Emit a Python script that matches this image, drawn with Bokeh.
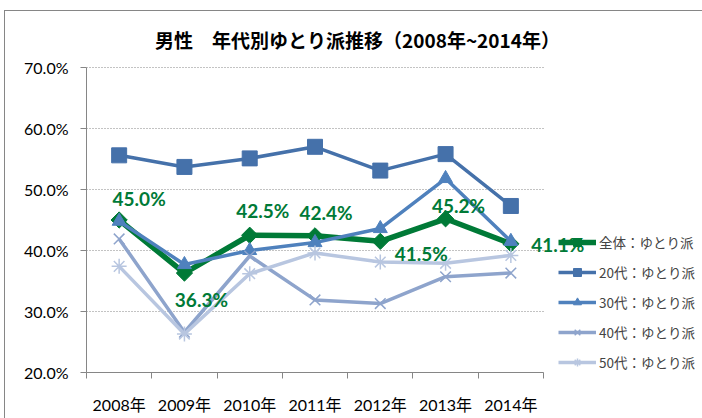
from bokeh.plotting import figure
from bokeh.models import (Range1d, FixedTicker, PrintfTickFormatter, Legend, LegendItem,
                          ColumnDataSource, LabelSet, Label)
from bokeh.core.properties import value
from bokeh.embed import file_html
from bokeh.resources import INLINE

# ---- data ----
title_text = "男性　年代別ゆとり派推移（2008年~2014年）"
years = ["2008年", "2009年", "2010年", "2011年", "2012年", "2013年", "2014年"]
series_names = ["全体：ゆとり派", "20代：ゆとり派", "30代：ゆとり派", "40代：ゆとり派", "50代：ゆとり派"]
total = [45.0, 36.3, 42.5, 42.4, 41.5, 45.2, 41.1]
age20 = [55.6, 53.7, 55.1, 57.0, 53.1, 55.8, 47.3]
age30 = [44.8, 37.7, 40.0, 41.3, 43.6, 51.8, 41.5]
age40 = [41.9, 26.6, 39.1, 31.9, 31.3, 35.7, 36.3]
age50 = [37.4, 26.3, 36.2, 39.6, 38.1, 37.9, 39.2]
y_ticks = [20, 30, 40, 50, 60, 70]

# label offsets (screen px, x right / y down) for the 全体 data labels
label_dx = [20, 17, 13, 11, 41, 13, 47]
label_dy = [-22, 26, -25, -23, 12, -13, 1]

n = len(years)
xs = [i + 1 for i in range(n)]
x_lo, x_hi = 0.5, n + 0.5
y_lo, y_hi = y_ticks[0], y_ticks[-1]

FONT = "Lato"
CJK = "Noto Sans CJK JP"
AXIS_GRAY = "#868686"

W, H = 702, 418
LEFT, BOTTOM = 86, 46
PLOT_W, PLOT_H, PLOT_TOP = 457, 305, 67   # category/value area in pixels
x_px = PLOT_W / (x_hi - x_lo)
y_px = PLOT_H / (y_hi - y_lo)
frame_w, frame_h = W - LEFT, H - BOTTOM
x_end = x_lo + frame_w / x_px       # frame extends right to hold the legend
y_end = y_lo + frame_h / y_px       # and up to hold the title

p = figure(width=W, height=H, output_backend="svg", toolbar_location=None,
           x_range=Range1d(x_lo, x_end), y_range=Range1d(y_lo, y_end),
           min_border_left=LEFT, min_border_right=0, min_border_top=0, min_border_bottom=BOTTOM)
p.outline_line_color = None
p.background_fill_color = "white"
p.background_fill_alpha = 0
p.border_fill_alpha = 0
p.styles = {
    "background-color": "white",
    "background-image": "linear-gradient(#868686, #868686), linear-gradient(#868686, #868686)",
    "background-size": "1px 100%, 100% 1px",
    "background-position": "4px 10px, 4px 10px",
    "background-repeat": "no-repeat",
}

# title (as a label placed above the value area)
title = Label(x=357 - LEFT, y=frame_h - 39, x_units="screen", y_units="screen",
              text=title_text, text_align="center", text_baseline="middle",
              text_font=CJK, text_font_size="19px", text_font_style="bold", text_color="#000000")
p.add_layout(title)

# axes
p.xaxis.bounds = (x_lo, x_hi)
p.yaxis.bounds = (y_lo, y_hi)
p.xaxis.ticker = FixedTicker(ticks=xs, minor_ticks=[x - 0.5 for x in xs] + [x_hi])
p.xaxis.major_label_overrides = {x: y for x, y in zip(xs, years)}
p.xaxis.major_tick_line_color = None
p.xaxis.major_tick_out = 0
p.xaxis.major_tick_in = 0
p.xaxis.minor_tick_out = 6
p.xaxis.minor_tick_in = 0
p.xaxis.minor_tick_line_color = AXIS_GRAY
p.xaxis.major_label_standoff = 16
p.yaxis.ticker = FixedTicker(ticks=y_ticks)
p.yaxis.formatter = PrintfTickFormatter(format="%.1f%%")
p.yaxis.major_tick_out = 6
p.yaxis.major_tick_in = 0
p.yaxis.minor_tick_line_color = None
p.yaxis.major_tick_line_color = AXIS_GRAY
p.yaxis.major_label_standoff = 12
for ax in (p.xaxis, p.yaxis):
    ax.axis_line_color = AXIS_GRAY
    ax.major_label_text_font = FONT
    ax.major_label_text_font_size = "16px"
    ax.major_label_text_color = "#000000"
p.xaxis.major_label_text_font = "Lato, Noto Sans CJK JP"

p.xgrid.grid_line_color = None
p.ygrid.grid_line_color = None
# dotted horizontal gridlines limited to the category area
p.segment(x0=[x_lo] * len(y_ticks), x1=[x_hi] * len(y_ticks), y0=y_ticks, y1=y_ticks,
          line_color=AXIS_GRAY, line_dash="1 2", line_width=1)

# series
specs = [
    (total, "#007A37", 5.5, "square", 11.5, 0.785),
    (age20, "#4571AA", 3.5, "square", 15, 0),
    (age30, "#4F81BD", 3.5, "triangle", 14, 0),
    (age40, "#8EA4CC", 3.5, "x", 15, 0),
    (age50, "#B8C6E0", 3.5, "asterisk", 15, 0),
]
items = []
for name, (vals, col, lw, mk, sz, ang) in zip(series_names, specs):
    src = ColumnDataSource(dict(x=xs, y=vals))
    lr = p.line("x", "y", source=src, line_color=col, line_width=lw)
    sr = p.scatter("x", "y", source=src, marker=mk, size=sz, angle=ang,
                   fill_color=col, line_color=col, line_width=1.5 if mk in ("x", "asterisk") else 1)
    items.append(LegendItem(label=name, renderers=[lr, sr]))

# data labels
lab_src = ColumnDataSource(dict(x=xs, y=total, text=[f"{v:.1f}%" for v in total],
                                dx=label_dx, dy=[-d for d in label_dy]))
labels = LabelSet(x="x", y="y", text="text", source=lab_src, x_offset="dx", y_offset="dy",
                  text_align="center", text_baseline="middle", text_color="#007A37",
                  text_font=value(FONT), text_font_size=value("19px"), text_font_style="bold")
p.add_layout(labels)

legend = Legend(items=items, location=(472, 0), orientation="vertical",
                glyph_width=38, glyph_height=20, label_height=20, spacing=10,
                padding=0, margin=0, label_standoff=3,
                border_line_color=None, background_fill_alpha=0,
                label_text_font=CJK, label_text_font_size="13.5px")
p.add_layout(legend)

open("out.html", "w").write(file_html(p, INLINE))
